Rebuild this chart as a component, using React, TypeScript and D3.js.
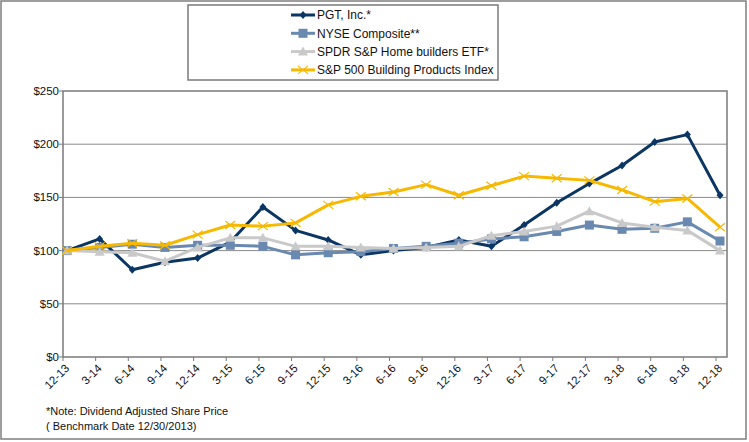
import React from 'react';
import * as d3 from 'd3';

const categories = ['12-13', '3-14', '6-14', '9-14', '12-14', '3-15', '6-15', '9-15', '12-15', '3-16', '6-16', '9-16', '12-16', '3-17', '6-17', '9-17', '12-17', '3-18', '6-18', '9-18', '12-18'];

const pgt = [100, 111, 82, 89, 93, 108, 141, 119, 110, 96, 100, 103, 110, 104, 124, 145, 163, 180, 202, 209, 152];
const nyse = [100, 103, 106, 103, 105, 105, 104, 96, 98, 99, 102, 104, 107, 111, 113, 118, 124, 120, 121, 127, 109];
const spdr = [100, 99, 98, 90, 103, 112, 112, 104, 104, 103, 102, 103, 104, 114, 118, 123, 137, 126, 122, 119, 100];
const building = [100, 104, 107, 105, 115, 124, 123, 126, 143, 151, 155, 162, 152, 161, 170, 168, 166, 157, 146, 149, 122];

const yTicks = [0, 50, 100, 150, 200, 250];

type Marker = 'diamond' | 'square' | 'triangle' | 'x';

const series: { name: string; values: number[]; color: string; marker: Marker }[] = [
  { name: 'PGT, Inc.*', values: pgt, color: '#0b3563', marker: 'diamond' },
  { name: 'NYSE Composite**', values: nyse, color: '#6a89b1', marker: 'square' },
  { name: 'SPDR S&P Home builders ETF*', values: spdr, color: '#c9c9c9', marker: 'triangle' },
  { name: 'S&P 500 Building Products Index', values: building, color: '#f6b800', marker: 'x' },
];

const font = '"Liberation Sans", Arial, sans-serif';

function MarkerShape({ type, x, y, color }: { type: Marker; x: number; y: number; color: string }) {
  if (type === 'diamond') {
    return <path d={`M${x},${y - 4} L${x + 3.5},${y} L${x},${y + 4} L${x - 3.5},${y} Z`} fill={color} />;
  }
  if (type === 'square') {
    return <rect x={x - 4.5} y={y - 4.5} width={9} height={9} fill={color} />;
  }
  if (type === 'triangle') {
    return <path d={`M${x},${y - 5} L${x + 5},${y + 4} L${x - 5},${y + 4} Z`} fill={color} />;
  }
  return (
    <path d={`M${x - 5},${y - 4} L${x + 5},${y + 4} M${x - 5},${y + 4} L${x + 5},${y - 4}`} stroke={color} strokeWidth={1.2} fill="none" />
  );
}

export default function App() {
  const width = 749;
  const height = 442;
  const plot = { left: 63, right: 727, top: 91, bottom: 357 };

  const x = d3.scalePoint<string>().domain(categories).range([67, 720]);
  const y = d3.scaleLinear().domain([0, 250]).range([plot.bottom, plot.top]);

  const line = d3
    .line<number>()
    .x((_, i) => x(categories[i]) as number)
    .y((d) => y(d));

  return (
    <svg width={width} height={height} style={{ position: 'absolute', left: 0, top: 0 }} fontFamily={font}>
      <rect x={0} y={0} width={width} height={height} fill="#fff" />
      <rect x={1} y={1} width={745} height={438} fill="none" stroke="#7f7f7f" strokeWidth={1.5} />

      {/* gridlines */}
      {yTicks.filter((t) => t > 0 && t < 250).map((t) => (
        <line key={t} x1={plot.left} x2={plot.right} y1={y(t)} y2={y(t)} stroke="#8a8a8a" strokeWidth={1} />
      ))}
      {/* plot frame */}
      <rect x={plot.left} y={plot.top} width={plot.right - plot.left} height={plot.bottom - plot.top} fill="none" stroke="#7a7a7a" strokeWidth={1.5} />

      {/* y axis */}
      {yTicks.map((t) => (
        <g key={t}>
          <line x1={plot.left - 4} x2={plot.left} y1={y(t)} y2={y(t)} stroke="#7a7a7a" />
          <text x={plot.left - 4} y={y(t)} dy="0.35em" textAnchor="end" fontSize={11.5} fill="#111">
            {d3.format('$,')(t)}
          </text>
        </g>
      ))}

      {/* x axis */}
      {categories.map((c) => {
        const tx = (x(c) as number) - 4;
        return (
          <g key={c}>
            <line x1={tx} x2={tx} y1={plot.bottom} y2={plot.bottom + 4} stroke="#7a7a7a" />
            <text
              transform={`translate(${tx + 7},${plot.bottom + 12}) rotate(-45)`}
              textAnchor="end"
              fontSize={11.5}
              fill="#111"
            >
              {c}
            </text>
          </g>
        );
      })}

      {/* series */}
      {series.map((s) => (
        <g key={s.name}>
          <path d={line(s.values) || ''} fill="none" stroke={s.color} strokeWidth={3} strokeLinejoin="round" />
          {s.values.map((v, i) => (
            <MarkerShape key={i} type={s.marker} x={x(categories[i]) as number} y={y(v)} color={s.color} />
          ))}
        </g>
      ))}

      {/* legend */}
      <rect x={188} y={5} width={310} height={75} fill="#fff" stroke="#7a7a7a" strokeWidth={1.5} />
      {series.map((s, i) => {
        const ly = 15 + i * 18.3;
        return (
          <g key={s.name}>
            <line x1={291} x2={315} y1={ly} y2={ly} stroke={s.color} strokeWidth={3} />
            <MarkerShape type={s.marker} x={303} y={ly} color={s.color} />
            <text x={317} y={ly} dy="0.35em" fontSize={12} fill="#111">
              {s.name}
            </text>
          </g>
        );
      })}

      {/* footnote */}
      <text x={46} y={415} fontSize={11} fill="#111">
        *Note: Dividend Adjusted Share Price
      </text>
      <text x={46} y={430} fontSize={11} fill="#111">
        ( Benchmark Date 12/30/2013)
      </text>
    </svg>
  );
}
